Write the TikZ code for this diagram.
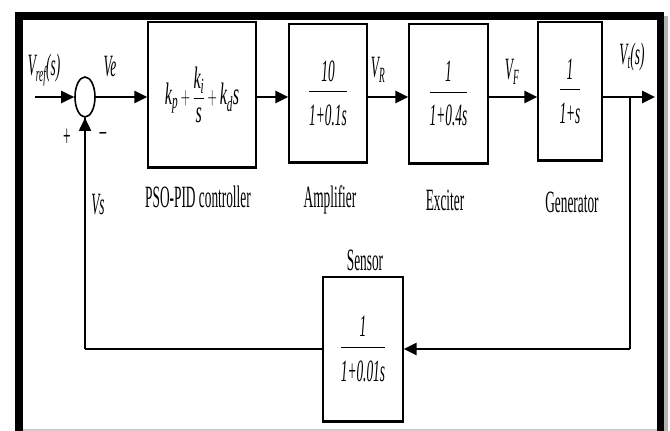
\documentclass[tikz,border=0pt]{standalone}
\usepackage{fontspec}
\setmainfont{Liberation Serif}
\usepackage{amsmath}
\usepackage{graphicx}
\usetikzlibrary{arrows.meta,positioning,shapes.geometric,calc}

% narrow type, as in the scanned figure
\newcommand{\nrw}[1]{\scalebox{0.43}[1]{#1}}
\newcommand{\tfn}[2]{\nrw{$\dfrac{\textit{#1}\rule[-6pt]{0pt}{0pt}}{\rule{0pt}{30pt}\textit{#2}}$}}

\begin{document}
\begin{tikzpicture}[x=1pt, y=-1pt, font=\fontsize{31}{34}\selectfont,
  blk/.style={draw, line width=1.4pt, inner sep=0pt},
  sig/.style={line width=2.6pt, -{Triangle[length=13pt,width=12pt]}},
  fbk/.style={line width=1.8pt},
  lbl/.style={inner sep=0pt}]
\useasboundingbox (0,0) rectangle (670,431);

% Frame
\fill[black] (15,12) rectangle (23,431);
\fill[black] (15,12) rectangle (664,20);
\fill[black] (657,12) rectangle (664,431);
\fill[gray!60] (664,16) rectangle (668,431);
\draw[gray!40, line width=2pt] (23,430) -- (657,430);

% Blocks
\node[draw, ellipse, line width=1.6pt, minimum width=20, minimum height=40, inner sep=0pt] (sum) at (85,97) {};
\node[blk, minimum width=108, minimum height=145] (pid) at (202,94.5)
  {\scalebox{0.52}[1]{$\textit{k}_{\textit{p}}+\dfrac{\textit{k}_{\textit{i}}}{\textit{s}}+\textit{k}_{\textit{d}}\textit{s}$}};
\node[blk, minimum width=78, minimum height=138] (amp) at (328,93) {\tfn{10}{1+0.1s}};
\node[blk, minimum width=79, minimum height=139] (exc) at (448.5,93.5) {\tfn{1}{1+0.4s}};
\node[blk, minimum width=64, minimum height=138] (gen) at (570,91) {\tfn{1}{1+s}};
\node[blk, minimum width=80, minimum height=144] (sen) at (363,349) {\tfn{1}{1+0.01s}};

% heavier lower edges of the blocks
\foreach \b in {pid,amp,exc,gen,sen}
  \draw[line width=2.8pt] (\b.south west) -- (\b.south east);

\coordinate (in) at (35,97);
\coordinate (out) at (655,97);
\coordinate (br) at (630,97);

% Signals
\draw[sig] (in) -- (sum.west);
\draw[sig] (sum.east) -- (sum.east -| pid.west);
\draw[sig] (sum.east -| pid.east) -- (sum.east -| amp.west);
\draw[sig] (sum.east -| amp.east) -- (sum.east -| exc.west);
\draw[sig] (sum.east -| exc.east) -- (sum.east -| gen.west);
\draw[sig] (sum.east -| gen.east) -- (out);
\draw[fbk] (br) -- (br |- sen.east);
\draw[sig] (br |- sen.east) -- (sen.east);
\draw[line width=2.6pt] (sen.west) -- (sen.west -| sum.south);
\draw[fbk] (sen.west -| sum.south) -- (sum.south);
\draw[sig, line width=1.8pt] ($(sum.south)+(0,14)$) -- (sum.south);

% Labels
\node[lbl] (vref) at (44,70) {\nrw{$\textit{V}_{\textit{ref}}\textit{(s)}$}};
\node[lbl] (ve) at (110,67) {\nrw{\textit{Ve}}};
\node[lbl] (plus) at (67,138) {\nrw{+}};
\node[lbl] (minus) at (103,137) {\nrw{--}};
\node[lbl] (vs) at (98,205) {\nrw{\textit{Vs}}};
\node[lbl] (vr) at (378,70) {\nrw{$\textit{V}_{\textit{R}}$}};
\node[lbl] (vf) at (512,72) {\nrw{$\textit{V}_{\textit{F}}$}};
\node[lbl] (vt) at (632,57) {\nrw{$\textit{V}_{\textit{t}}\textit{(s)}$}};
\node[lbl] (pidl) at (198,197) {\nrw{PSO-PID controller}};
\node[lbl] (ampl) at (330,200) {\nrw{Amplifier}};
\node[lbl] (excl) at (445,200) {\nrw{Exciter}};
\node[lbl] (genl) at (572,202) {\nrw{Generator}};
\node[lbl] (senl) at (365,260) {\nrw{Sensor}};
\end{tikzpicture}
\end{document}
